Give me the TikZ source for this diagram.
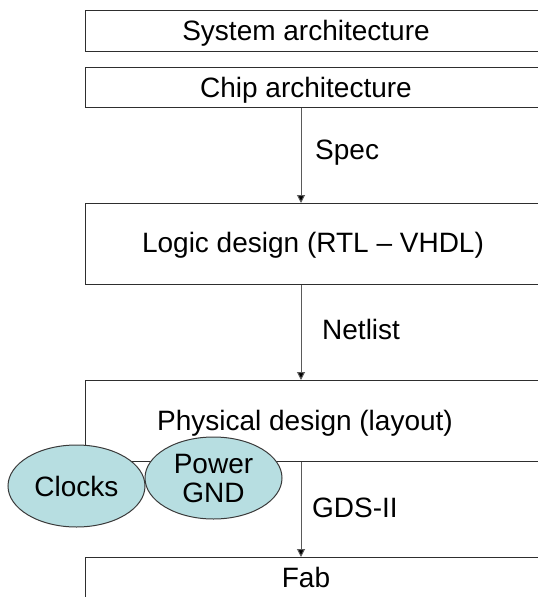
\documentclass[tikz,border=0pt]{standalone}
\usepackage{fontspec}
\setmainfont{Liberation Sans}
\usetikzlibrary{shapes.geometric,arrows.meta}
\definecolor{boxline}{HTML}{2E2E2E}
\definecolor{flowline}{HTML}{5A5A5A}
\definecolor{padfill}{HTML}{B7DEE1}
\definecolor{padline}{HTML}{3A3A3A}
\tikzset{
  stage/.style={draw=boxline, line width=1.3pt, anchor=north west,
    minimum width=480pt, inner sep=0pt, fill=white},
  stagetext/.style={font=\fontsize{28pt}{32pt}\selectfont, text=black,
    inner sep=0pt, anchor=base},
  flow/.style={draw=flowline, line width=1pt,
    -{Triangle[length=8pt,width=8pt,fill=black]}},
  flowtag/.style={font=\fontsize{28pt}{32pt}\selectfont, text=black,
    anchor=base west, inner sep=0pt},
  pad/.style={ellipse, draw=padline, line width=1pt, fill=padfill,
    minimum width=137pt, minimum height=82pt, inner sep=0pt,
    font=\fontsize{28pt}{29pt}\selectfont, align=center}
}
\begin{document}
\begin{tikzpicture}[x=1pt,y=-1pt]
  \useasboundingbox (0,0) rectangle (538,597);
  \clip (0,0) rectangle (538,597);
  \fill[white] (0,0) rectangle (538,597);

  % stage boxes (they run past the right edge)
  \node[stage, minimum height=41pt] (sys)   at (85,10)  {};
  \node[stage, minimum height=40pt] (chip)  at (85,67)  {};
  \node[stage, minimum height=81pt] (logic) at (85,203) {};
  \node[stage, minimum height=81pt] (phys)  at (85,380) {};
  \node[stage, minimum height=60pt] (fab)   at (85,557) {};

  % stage titles, placed on their baselines
  \node[stagetext] (sysT)   at (306,40)  {System architecture};
  \node[stagetext] (chipT)  at (306,97)  {Chip architecture};
  \node[stagetext] (logicT) at (313,252) {Logic design (RTL – VHDL)};
  \node[stagetext] (physT)  at (305,430) {Physical design (layout)};
  \node[stagetext] (fabT)   at (306,587) {Fab};

  % hand-off arrows between stages
  \coordinate (spine) at (301,0);
  \draw[flow] (chip.south -| spine)  -- (logic.north -| spine);
  \draw[flow] (logic.south -| spine) -- (phys.north -| spine);
  \draw[flow] (phys.south -| spine)  -- (fab.north -| spine);

  \node[flowtag] (spec)    at (315,159) {Spec};
  \node[flowtag] (netlist) at (322,339) {Netlist};
  \node[flowtag] (gds)     at (312,517) {GDS-II};

  % physical design inputs
  \node[pad] (clocks) at (76.5,486) {Clocks};
  \node[pad] (power)  at (213.5,478) {Power\\GND};
\end{tikzpicture}
\end{document}
